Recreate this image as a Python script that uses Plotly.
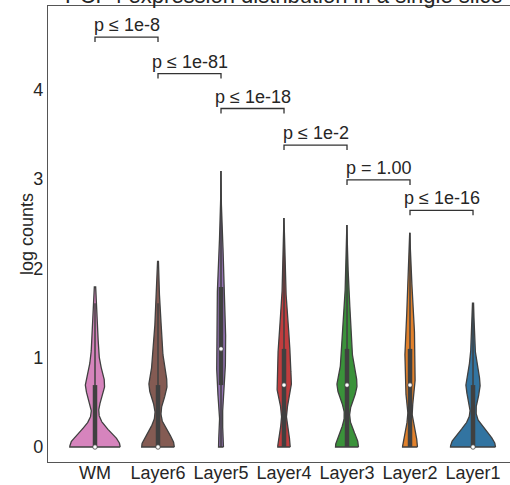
import numpy as np
import plotly.graph_objects as go

# ---------------- data ----------------
categories = ["WM", "Layer6", "Layer5", "Layer4", "Layer3", "Layer2", "Layer1"]
# number of spots with raw count 0, 1, 2, ... (plotted as log(1 + count))
wm_counts = [400, 150, 45, 18, 10, 4]
layer6_counts = [259, 140, 60, 28, 12, 7, 4, 2]
layer5_counts = [48, 64, 67, 37, 26, 25, 18, 14, 8, 6, 3, 2, 1, 1, 1, 0, 1, 0, 1, 0, 0, 1]
layer4_counts = [110, 121, 80, 35, 18, 10, 6, 4, 3, 2, 1, 1, 1]
layer3_counts = [182, 155, 65, 38, 18, 10, 6, 4, 2, 2, 1, 1]
layer2_counts = [132, 80, 72, 34, 20, 12, 7, 5, 3, 2, 1]
layer1_counts = [357, 111, 26, 10, 4]
p_labels = ["p ≤ 1e-8", "p ≤ 1e-81", "p ≤ 1e-18", "p ≤ 1e-2", "p = 1.00", "p ≤ 1e-16"]
y_ticks = [0, 1, 2, 3, 4]

# ---------------- style ----------------
colors = ["#d684bd", "#845b53", "#9372b2", "#c03d3e", "#3a923a", "#e1812c", "#3274a1"]
bandwidths = [0.17, 0.17, 0.21, 0.19, 0.17, 0.19, 0.17]
bracket_y = [4.59, 4.18, 3.79, 3.38, 2.99, 2.65]
GRAY = "#404040"
TXT = "#262626"
FRAME = "#555555"
FONT = "Liberation Sans, Arial, sans-serif"

all_counts = [wm_counts, layer6_counts, layer5_counts, layer4_counts,
              layer3_counts, layer2_counts, layer1_counts]


def kde(levels, weights, h, grid):
    d = (grid[:, None] - levels[None, :]) / h
    return (weights[None, :] * np.exp(-0.5 * d ** 2)).sum(axis=1) / (h * np.sqrt(2 * np.pi))


grids, dens = [], []
for cnt, h in zip(all_counts, bandwidths):
    cnt = np.asarray(cnt, dtype=float)
    levels = np.log1p(np.arange(len(cnt)))
    levels, cnt = levels[cnt > 0], cnt[cnt > 0]
    g = np.linspace(levels.min(), levels.max(), 300)
    grids.append(g)
    dens.append(kde(levels, cnt, h, g))
dmax = max(d.max() for d in dens)

fig = go.Figure()
for i, (cnt, g, d) in enumerate(zip(all_counts, grids, dens)):
    hw = 0.4 * d / dmax
    xs = np.concatenate([i + hw, (i - hw)[::-1], [i + hw[0]]])
    ys = np.concatenate([g, g[::-1], [g[0]]])
    fig.add_trace(go.Scatter(x=xs, y=ys, mode="lines", fill="toself",
                             fillcolor=colors[i], line=dict(color=GRAY, width=1.3),
                             hoverinfo="skip"))
    samples = np.repeat(np.log1p(np.arange(len(cnt))), cnt)
    q25, q50, q75 = np.percentile(samples, [25, 50, 75])
    wl = 1.5 * (q75 - q25)
    lo = samples[samples >= q25 - wl].min()
    hi = samples[samples <= q75 + wl].max()
    fig.add_trace(go.Scatter(x=[i, i], y=[lo, hi], mode="lines",
                             line=dict(color=GRAY, width=1.5), hoverinfo="skip"))
    fig.add_trace(go.Scatter(x=[i, i], y=[q25, q75], mode="lines",
                             line=dict(color=GRAY, width=4.5), hoverinfo="skip"))
    fig.add_trace(go.Scatter(x=[i], y=[q50], mode="markers",
                             marker=dict(color="white", size=4.5, line=dict(color=GRAY, width=0.8)),
                             hoverinfo="skip"))

# significance brackets
tick = 0.055
for i, (lab, yb) in enumerate(zip(p_labels, bracket_y)):
    fig.add_trace(go.Scatter(x=[i, i, i + 1, i + 1], y=[yb - tick, yb, yb, yb - tick],
                             mode="lines", line=dict(color="#333333", width=1.3),
                             hoverinfo="skip"))
    fig.add_annotation(x=i + 0.5, y=yb, text=lab, showarrow=False, yanchor="bottom",
                       xanchor="center", yshift=0, font=dict(size=18, color=TXT, family=FONT))

fig.add_annotation(text="PCP4 expression distribution in a single slice", xref="paper", yref="paper",
                   x=(284 - 48) / 462, y=1, xanchor="center", yanchor="bottom", yshift=-4,
                   showarrow=False, font=dict(size=22, color=TXT, family=FONT))
fig.add_annotation(text="log counts", xref="paper", yref="paper", x=(27 - 48) / 462, y=0.5,
                   xanchor="center", yanchor="middle", textangle=-90, showarrow=False,
                   font=dict(size=18, color=TXT, family=FONT))

fig.update_layout(width=510, height=485, margin=dict(l=48, r=0, t=6, b=23, pad=0),
                  plot_bgcolor="white", paper_bgcolor="white", showlegend=False,
                  font=dict(family=FONT, size=18, color=TXT))
fig.update_xaxes(range=[-0.746, 6.587], tickvals=list(range(len(categories))), ticktext=categories,
                 showline=True, linecolor=FRAME, linewidth=1.2, mirror=True, showgrid=False,
                 zeroline=False, ticks="", tickfont=dict(size=18, color=TXT),
                 automargin=False, ticklabelstandoff=-6)
fig.update_yaxes(range=[-0.168, 4.938], tickvals=y_ticks, showline=True, linecolor=FRAME,
                 linewidth=1.2, showgrid=False, zeroline=False, ticks="",
                 tickfont=dict(size=18, color=TXT), automargin=False)

fig.write_html("out.html")
